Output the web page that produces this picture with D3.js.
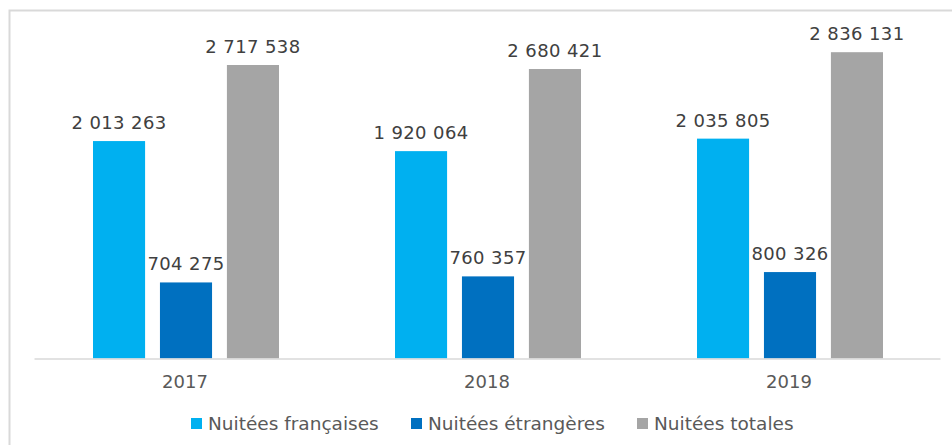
<!DOCTYPE html>
<html>
<head>
<meta charset="utf-8">
<script src="https://cdn.jsdelivr.net/npm/d3@7"></script>
<style>
  body { margin: 0; background: #fff; }
  svg { display: block; font-family: "DejaVu Sans", Verdana, sans-serif; }
</style>
</head>
<body>
<svg width="952" height="445"></svg>
<script>
// data
const years = ['2017', '2018', '2019'];
const seriesNames = ['Nuitées françaises', 'Nuitées étrangères', 'Nuitées totales'];
const francaises = [2013263, 1920064, 2035805];
const etrangeres = [704275, 760357, 800326];
const totales = [2717538, 2680421, 2836131];
const colors = ['#00b0f0', '#0070c0', '#a5a5a5'];

const svg = d3.select('svg');

// chart frame (cut off at right and bottom like the original)
svg.append('rect')
  .attr('x', 9.5).attr('y', 10.5)
  .attr('width', 960).attr('height', 460)
  .attr('fill', 'none')
  .attr('stroke', '#d9d9d9')
  .attr('stroke-width', 2);

const base = 358.5;

const x = d3.scaleBand().domain(years).range([34, 940]);
const x1 = d3.scaleBand().domain(d3.range(3)).range([59, 245])
  .paddingInner(0.222).paddingOuter(0);
const y = d3.scaleLinear().domain([0, 3000000]).range([base, 34.5]);

const rows = years.map((yr, i) => ({year: yr, vals: [francaises[i], etrangeres[i], totales[i]]}));
const fmt = v => d3.format(',')(v).replace(/,/g, ' ');

const g = svg.selectAll('g.year').data(rows).enter().append('g')
  .attr('transform', d => `translate(${x(d.year)},0)`);

g.selectAll('rect').data(d => d.vals.map((v, k) => ({v, k}))).enter().append('rect')
  .attr('x', d => x1(d.k))
  .attr('width', x1.bandwidth())
  .attr('y', d => y(d.v))
  .attr('height', d => base - y(d.v))
  .attr('fill', d => colors[d.k]);

g.selectAll('text').data(d => d.vals.map((v, k) => ({v, k}))).enter().append('text')
  .attr('x', d => x1(d.k) + x1.bandwidth() / 2)
  .attr('y', d => y(d.v) - 12)
  .attr('text-anchor', 'middle')
  .attr('font-size', 18)
  .attr('letter-spacing', 0.4)
  .attr('fill', '#404040')
  .text(d => fmt(d.v));

// x axis
const xAxis = svg.append('g')
  .attr('transform', `translate(0,${base})`)
  .call(d3.axisBottom(x).tickSize(0).tickPadding(17));
xAxis.select('.domain').attr('stroke', '#d9d9d9').attr('stroke-width', 1.5);
xAxis.selectAll('text')
  .attr('font-size', 18)
  .attr('fill', '#595959')
  .attr('font-family', '"DejaVu Sans", Verdana, sans-serif');

// legend
const legendX = [191, 411, 637];
const leg = svg.selectAll('g.leg').data(seriesNames).enter().append('g')
  .attr('transform', (d, i) => `translate(${legendX[i]},418)`);
leg.append('rect').attr('width', 11).attr('height', 11)
  .attr('fill', (d, i) => colors[i]);
leg.append('text')
  .attr('x', 17).attr('y', 11.5)
  .attr('font-size', 18.5)
  .attr('fill', '#595959')
  .text(d => d);
</script>
</body>
</html>
